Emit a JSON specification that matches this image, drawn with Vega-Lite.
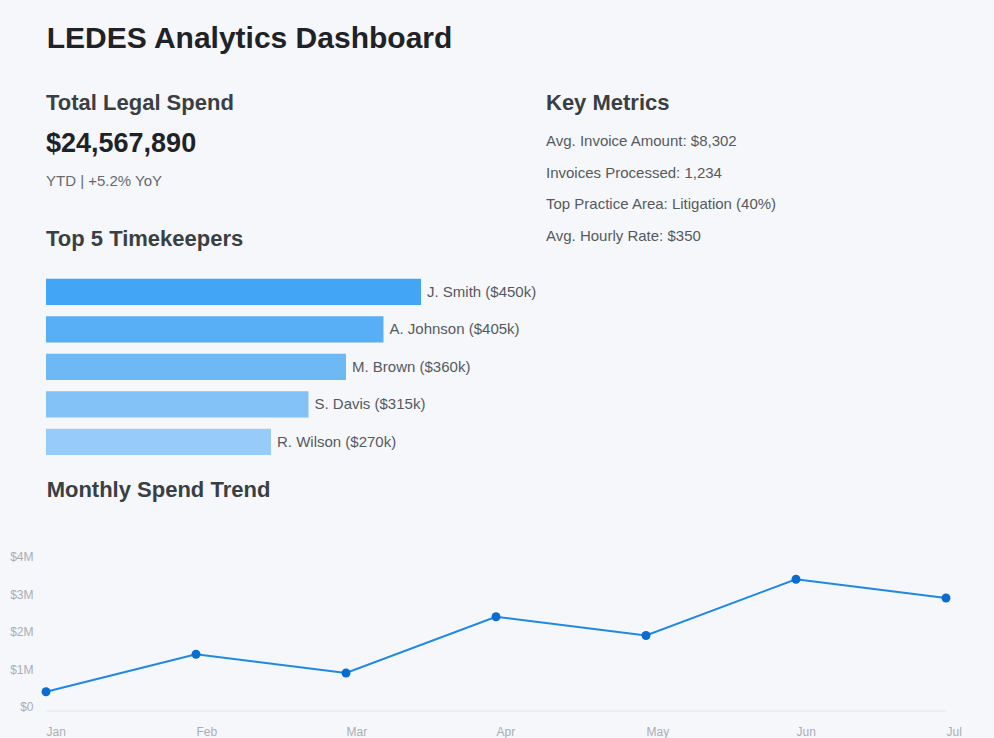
{
  "$schema": "https://vega.github.io/schema/vega-lite/v6.json",
  "background": "#f5f7fa",
  "padding": {"left": 9, "top": 23, "right": 8, "bottom": 2},
  "title": {"text": "LEDES Analytics Dashboard", "anchor": "start", "fontSize": 30, "fontWeight": "bold", "color": "#1f2226", "offset": 38, "dx": 37},
  "config": {
    "font": "Liberation Sans",
    "view": {"stroke": null},
    "title": {"anchor": "start", "fontSize": 22, "fontWeight": "bold", "color": "#3a3f44"}
  },
  "datasets": {
    "kpi": [
      {"kind": "value", "label": "$24,567,890"},
      {"kind": "sub", "label": "YTD | +5.2% YoY"}
    ],
    "metrics": [
      {"metric": "Avg. Invoice Amount: $8,302"},
      {"metric": "Invoices Processed: 1,234"},
      {"metric": "Top Practice Area: Litigation (40%)"},
      {"metric": "Avg. Hourly Rate: $350"}
    ],
    "timekeepers": [
      {"name": "J. Smith", "amount": 450},
      {"name": "A. Johnson", "amount": 405},
      {"name": "M. Brown", "amount": 360},
      {"name": "S. Davis", "amount": 315},
      {"name": "R. Wilson", "amount": 270}
    ],
    "monthly": [
      {"month": "Jan", "spend": 500000},
      {"month": "Feb", "spend": 1500000},
      {"month": "Mar", "spend": 1000000},
      {"month": "Apr", "spend": 2500000},
      {"month": "May", "spend": 2000000},
      {"month": "Jun", "spend": 3500000},
      {"month": "Jul", "spend": 3000000}
    ]
  },
  "spacing": 17.5,
  "vconcat": [
    {
      "spacing": 0,
      "hconcat": [
        {
          "spacing": 29,
          "vconcat": [
            {
              "title": {"text": "Total Legal Spend", "offset": 10},
              "width": 500,
              "height": 74,
              "data": {"name": "kpi"},
              "encoding": {
                "x": {"datum": 0, "type": "quantitative", "scale": {"domain": [0, 1]}, "axis": null},
                "y": {"field": "kind", "type": "nominal", "scale": {"domain": ["value", "sub"]}, "axis": null},
                "text": {"field": "label"}
              },
              "layer": [
                {
                  "transform": [{"filter": "datum.kind === 'value'"}],
                  "mark": {"type": "text", "align": "left", "baseline": "middle", "fontSize": 27, "fontWeight": "bold", "color": "#1f2226"}
                },
                {
                  "transform": [{"filter": "datum.kind === 'sub'"}],
                  "mark": {"type": "text", "align": "left", "baseline": "middle", "fontSize": 15, "color": "#666a70"}
                }
              ]
            },
            {
              "title": {"text": "Top 5 Timekeepers", "offset": 22},
              "width": 500,
              "height": 187.5,
              "data": {"name": "timekeepers"},
              "transform": [{"calculate": "datum.name + ' ($' + datum.amount + 'k)'", "as": "label"}],
              "encoding": {
                "y": {"field": "name", "type": "nominal", "sort": null, "axis": null, "scale": {"paddingInner": 0.3, "paddingOuter": 0.15}},
                "x": {"field": "amount", "type": "quantitative", "scale": {"domain": [0, 600]}, "axis": null}
              },
              "layer": [
                {
                  "mark": {"type": "bar", "color": "#42a5f5"},
                  "encoding": {
                    "opacity": {"field": "amount", "type": "quantitative", "scale": {"domain": [270, 450], "range": [0.52, 1]}, "legend": null}
                  }
                },
                {
                  "mark": {"type": "text", "align": "left", "baseline": "middle", "dx": 6, "fontSize": 15, "color": "#555a60"},
                  "encoding": {"text": {"field": "label"}}
                }
              ]
            }
          ]
        },
        {
          "title": {"text": "Key Metrics", "offset": 10.5},
          "width": 440,
          "height": 127,
          "data": {"name": "metrics"},
          "mark": {"type": "text", "align": "left", "baseline": "middle", "fontSize": 15, "color": "#555a60"},
          "encoding": {
            "x": {"datum": 0, "type": "quantitative", "scale": {"domain": [0, 1]}, "axis": null},
            "y": {"field": "metric", "type": "nominal", "sort": null, "axis": null},
            "text": {"field": "metric"}
          }
        }
      ]
    },
    {
      "title": {"text": "Monthly Spend Trend", "offset": 49, "dx": 37},
      "width": 900,
      "height": 150,
      "data": {"name": "monthly"},
      "encoding": {
        "x": {
          "field": "month", "type": "ordinal", "sort": null,
          "scale": {"type": "point", "padding": 0},
          "axis": {"title": null, "labelAngle": 0, "labelAlign": "left", "ticks": false, "domainColor": "#e3e6ea", "labelColor": "#a9aeb4", "labelFontSize": 12, "labelPadding": 16}
        },
        "y": {
          "field": "spend", "type": "quantitative",
          "scale": {"domain": [0, 4000000]},
          "axis": {"title": null, "grid": false, "domain": false, "ticks": false, "values": [0, 1000000, 2000000, 3000000, 4000000], "labelExpr": "datum.value == 0 ? '$0' : '$' + datum.value / 1000000 + 'M'", "labelColor": "#a9aeb4", "labelFontSize": 12, "labelPadding": 13, "labelBaseline": "alphabetic"}
        }
      },
      "layer": [
        {"mark": {"type": "line", "color": "#1e88e5", "strokeWidth": 2}},
        {"mark": {"type": "point", "filled": true, "opacity": 1, "color": "#0a6ccf", "size": 80}}
      ]
    }
  ]
}
